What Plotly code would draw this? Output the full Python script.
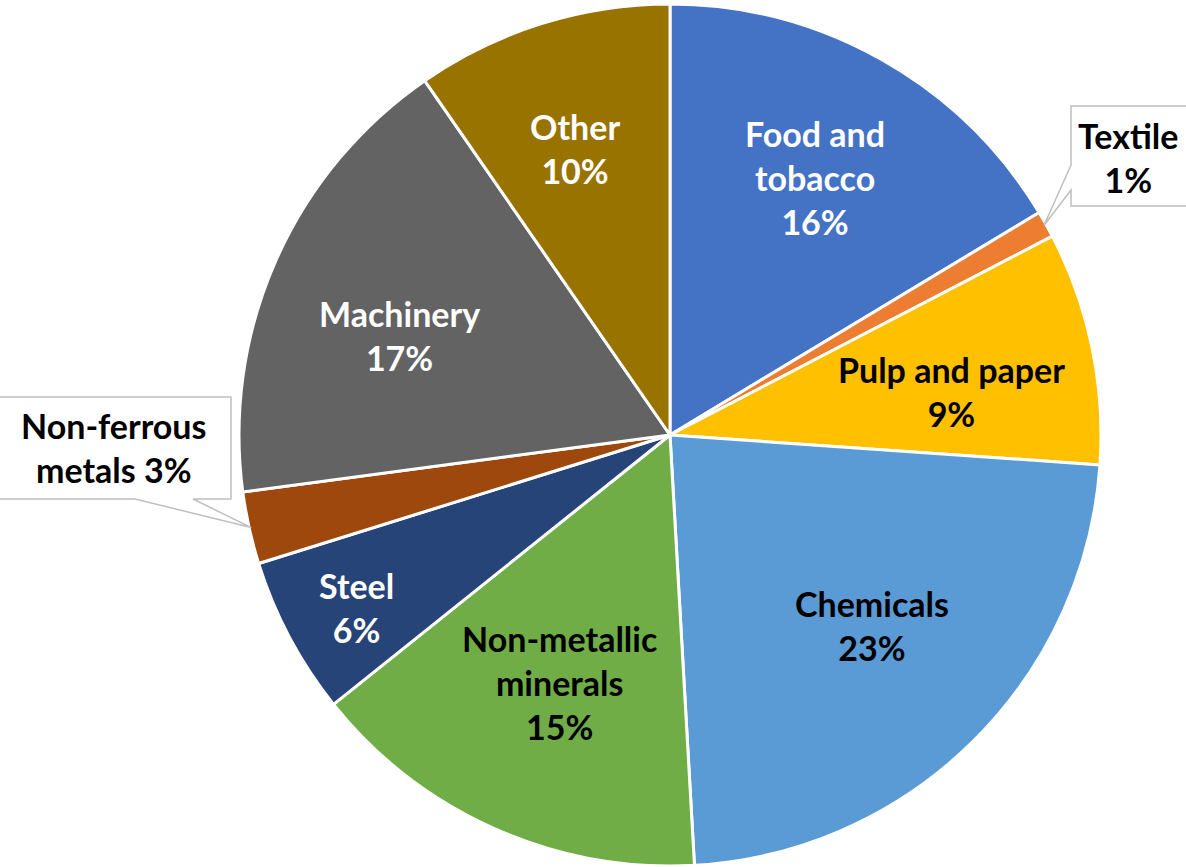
import math
import plotly.graph_objects as go

# ---- data ----
categories = ["Food and tobacco", "Textile", "Pulp and paper", "Chemicals",
              "Non-metallic minerals", "Steel", "Non-ferrous metals", "Machinery", "Other"]
shares = [16.3, 1.0, 8.7, 22.9, 15.1, 5.9, 2.7, 17.4, 9.6]
label_texts = ["Food and<br>tobacco<br>16%", "Textile<br>1%", "Pulp and paper<br>9%",
               "Chemicals<br>23%", "Non-metallic<br>minerals<br>15%", "Steel<br>6%",
               "Non-ferrous<br>metals 3%", "Machinery<br>17%", "Other<br>10%"]

# ---- styles ----
colors = ["#4472C4", "#ED7D31", "#FFC000", "#5B9BD5", "#70AD47",
          "#264478", "#9E480E", "#636363", "#997300"]
text_colors = ["white", "black", "black", "black", "black", "white", "black", "white", "white"]
label_radius = [0.685, None, 0.66, 0.645, 0.63, 0.83, None, 0.67, 0.70]
label_angle_shift = [0, 0, 3.0, -2.0, 0, -0.9, 0, -3.6, -1.0]

W, H = 1186, 867
CX, CY, R = 670, 435, 431
FONT = "Lato"
FS = 34


def px(x):
    return x / W


def py(y):
    return 1 - y / H


fig = go.Figure(go.Pie(
    labels=categories,
    values=shares,
    sort=False,
    direction="clockwise",
    rotation=0,
    textinfo="none",
    hoverinfo="label+percent",
    marker=dict(colors=colors, line=dict(color="white", width=3)),
    domain=dict(x=[px(CX - R), px(CX + R)], y=[py(CY + R), py(CY - R)]),
    showlegend=False,
))

total = sum(shares)
annotations = []
shapes = []
cum = 0.0
mids = []
for v in shares:
    mids.append((cum + v / 2) / total * 2 * math.pi)
    cum += v


def polar(angle, r):
    return CX + r * math.sin(angle), CY - r * math.cos(angle)


for i, txt in enumerate(label_texts):
    if label_radius[i] is None:
        continue
    x, y = polar(mids[i] + math.radians(label_angle_shift[i]), label_radius[i] * R)
    annotations.append(dict(x=px(x), y=py(y), xref="paper", yref="paper", text=txt,
                            showarrow=False, xanchor="center", yanchor="middle",
                            font=dict(family=FONT, size=FS, color=text_colors[i], weight="bold")))

# callout for Textile
tx, ty = polar(mids[1], 0.995 * R)
box = [(1071, 106), (1195, 106), (1195, 206), (1071, 206), (1071, 190), (tx, ty), (1071, 165)]
path = "M " + " L ".join(f"{px(a):.5f},{py(b):.5f}" for a, b in box) + " Z"
shapes.append(dict(type="path", xref="paper", yref="paper", path=path,
                   fillcolor="white", line=dict(color="#BFBFBF", width=1.5)))
annotations.append(dict(x=px(1128), y=py(157), xref="paper", yref="paper", text=label_texts[1],
                        showarrow=False, xanchor="center", yanchor="middle",
                        font=dict(family=FONT, size=FS, color="black", weight="bold")))

# callout for Non-ferrous metals
nx, ny = polar(mids[6], 0.995 * R)
box = [(-5, 397), (231, 397), (231, 499), (193, 499), (nx, ny), (135, 499), (-5, 499)]
path = "M " + " L ".join(f"{px(a):.5f},{py(b):.5f}" for a, b in box) + " Z"
shapes.append(dict(type="path", xref="paper", yref="paper", path=path,
                   fillcolor="white", line=dict(color="#BFBFBF", width=1.5)))
annotations.append(dict(x=px(113), y=py(448), xref="paper", yref="paper", text=label_texts[6],
                        showarrow=False, xanchor="center", yanchor="middle",
                        font=dict(family=FONT, size=FS, color="black", weight="bold")))

fig.update_layout(width=W, height=H, margin=dict(l=0, r=0, t=0, b=0),
                  paper_bgcolor="white", plot_bgcolor="white",
                  annotations=annotations, shapes=shapes)

fig.write_html("out.html", config={"displayModeBar": False},
               post_script="document.body.style.margin='0';document.body.style.overflow='hidden';")
